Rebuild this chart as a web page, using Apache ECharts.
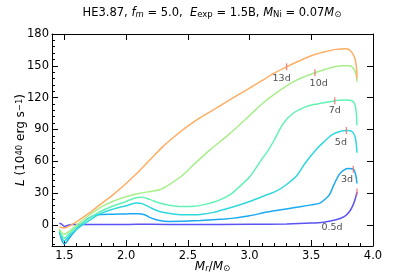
<!DOCTYPE html>
<html><head><meta charset="utf-8">
<script src="https://cdn.jsdelivr.net/npm/echarts@6/dist/echarts.min.js"></script>
<style>html,body{margin:0;padding:0;background:#fff}#c{width:415px;height:277px}</style>
</head><body><div id="c"></div>
<script>
// ---- tick labels ----
const xTicks = [1.5, 2.0, 2.5, 3.0, 3.5, 4.0];
const yTicks = [0, 30, 60, 90, 120, 150, 180];

// ---- series (M_r / M_sun , L in 1e40 erg/s) ----
const m13 = [1.46,1.5,1.55,1.6,1.7,1.8,1.9,2.0,2.1,2.2,2.3,2.4,2.5,2.6,2.7,2.8,2.9,3.0,3.1,3.2,3.3,3.4,3.5,3.6,3.7,3.78,3.82,3.85,3.865,3.87];
const L13 = [-2,-3,-0.5,3,11,20,29,39,50,62,74,84,93,101,108,115,122,129,136,143,149,154.5,159.5,163,165.5,166,164,158,150,138];

const m10 = [1.46,1.5,1.55,1.6,1.7,1.8,1.9,2.0,2.1,2.2,2.27,2.35,2.45,2.55,2.68,2.84,3.0,3.1,3.2,3.3,3.38,3.45,3.53,3.65,3.75,3.81,3.845,3.865,3.87];
const L10 = [-4,-9,-5,0,9,17,22.5,26.5,29.5,31.5,33,38,46,57,70.7,86,103,114,123,131,136.5,140,143.5,148,150,150,147,141,135];

const m7 = [1.46,1.5,1.55,1.6,1.7,1.8,1.9,2.0,2.08,2.13,2.19,2.27,2.35,2.45,2.55,2.65,2.75,2.85,2.9,3.0,3.1,3.15,3.2,3.27,3.35,3.46,3.55,3.65,3.72,3.78,3.83,3.855,3.865,3.87];
const L7 = [-5,-12.5,-7,-2,6,13,18,22,25.5,26,24,20.5,18.5,17.3,17.5,19.5,23,29,34,45,62,70,80,95,105,111.5,114,116,117.5,117.8,117,113,105,94];

const m5 = [1.46,1.5,1.55,1.6,1.7,1.8,1.9,2.0,2.08,2.13,2.2,2.27,2.38,2.5,2.6,2.7,2.87,3.0,3.14,3.22,3.3,3.38,3.45,3.54,3.6,3.67,3.73,3.79,3.83,3.855,3.865,3.87];
const L5 = [-6,-15,-9,-4,4,11,15,18,20.5,20,16,12.5,10.3,9.5,9.8,11.5,17,22,28.3,32,38,46,58,71,78,85,88,89,88,83,76,68];

const m3 = [1.46,1.5,1.55,1.6,1.65,1.7,1.75,1.8,1.9,2.0,2.1,2.15,2.2,2.27,2.35,2.5,2.6,2.8,2.87,3.0,3.14,3.3,3.41,3.5,3.57,3.62,3.65,3.68,3.73,3.77,3.8,3.84,3.86,3.87];
const L3 = [-7,-18,-11,-4,2,6.5,9,9.8,10,10.3,10.5,9.5,6.5,4,3.2,3.5,4,5.5,6.3,8.5,12,15,17,18.8,20.5,25,29,37,48,52,53,52.5,47,39];

const m05 = [1.46,1.48,1.5,1.53,1.56,1.7,2.0,2.2,2.5,3.0,3.3,3.5,3.6,3.7,3.77,3.81,3.84,3.86,3.87];
const L05 = [1.5,0.5,-1.5,-0.5,0.3,0.2,0.3,0.6,0.2,0.5,0.8,1.6,2.5,4.7,8,12.5,19,26,31];

// ---- epoch markers (red ticks) and their labels ----
const epochNames = ['13d','10d','7d','5d','3d','0.5d'];
const markM = [3.30, 3.53, 3.69, 3.784, 3.84, 3.87];
const markL = [149, 143.5, 117, 89, 52.5, 31];
const labelM = [3.26, 3.56, 3.69, 3.74, 3.79, 3.668];
const labelL = [138, 133, 107.7, 78, 43, -2.2];

const colors = ['#ffad62','#a8ee8a','#62f2b4','#2fd8dc','#1aaaf0','#5a55f2'];

const FONT = 'DejaVu Sans';
const xMinor = []; for (let i = 14; i <= 40; i++) xMinor.push(i / 10);
const yMinor = []; for (let v = -18; v <= 180; v += 6) yMinor.push(v);

const zip = (a, b) => a.map((v, i) => [v, b[i]]);
const curves = [[m13,L13],[m10,L10],[m7,L7],[m5,L5],[m3,L3],[m05,L05]];

const sub = {fontSize: 8.5, fontFamily: FONT, verticalAlign: 'bottom', lineHeight: 10, color:'#000'};
const subI = Object.assign({}, sub, {fontStyle: 'italic'});
const sup = {fontSize: 8.5, fontFamily: FONT, verticalAlign: 'top', lineHeight: 9, color:'#000'};
const it = {fontStyle: 'italic', fontFamily: FONT, fontSize: 12, color:'#000'};
const itT = Object.assign({}, it, {fontSize: 11.5});

const chart = echarts.init(document.getElementById('c'), null, {renderer: 'canvas'});

const series = curves.map((c, i) => ({
  type: 'line', xAxisIndex: 0, yAxisIndex: 0,
  data: zip(c[0], c[1]), showSymbol: false, smooth: 0.3,
  lineStyle: {color: colors[i], width: 1.5}, z: 2 + (5 - i), silent: true
}));
series.push({
  type: 'scatter', xAxisIndex: 0, yAxisIndex: 0,
  data: zip(markM, markL), symbol: 'rect', symbolSize: [1.3, 7],
  itemStyle: {color: '#f26d6d', opacity: 0.85}, z: 10, silent: true
});
series.push({
  type: 'scatter', xAxisIndex: 0, yAxisIndex: 0,
  data: labelM.map((v, i) => [v, labelL[i], epochNames[i]]), symbolSize: 0,
  label: {show: true, position: 'inside', formatter: p => p.data[2], color: '#222', fontSize: 9.5, fontFamily: FONT},
  z: 11, silent: true
});

const axLine = {show: true, onZero: false, lineStyle: {color: '#000', width: 1}};

chart.setOption({
  animation: false,
  backgroundColor: '#fff',
  grid: {left: 52, right: 42, top: 34, bottom: 31, containLabel: false, outerBoundsMode: 'none'},
  graphic: [{
    type: 'text', x: 212, y: 7,
    style: {
      text: 'HE3.87, {i|f}{si|m} = 5.0,  {i|E}{s|exp} = 1.5B, {i|M}{s|Ni} = 0.07{i|M}{s|⊙}',
      font: '11.5px ' + FONT, fill: '#000', align: 'center',
      rich: {i: itT, s: sub, si: subI}
    }
  }],
  xAxis: [
    {type: 'value', min: 1.4, max: 4.0, position: 'bottom',
     axisLine: axLine,
     axisTick: {show: true, inside: true, length: 6, customValues: xTicks, lineStyle: {color: '#000'}},
     axisLabel: {customValues: xTicks, formatter: v => v.toFixed(1), color: '#000', fontSize: 11.5, margin: 4, fontFamily: FONT},
     splitLine: {show: false},
     name: '{i|M}{si|r}/{i|M}{s|⊙}', nameLocation: 'middle', nameGap: 15, nameMoveOverlap: false,
     nameTextStyle: {fontSize: 12, fontFamily: FONT, color: '#000', verticalAlign: 'top', rich: {i: it, s: sub, si: subI}}},
    {type: 'value', min: 1.4, max: 4.0, position: 'bottom',
     axisLine: {show: false, onZero: false},
     axisTick: {show: true, inside: true, length: 3, customValues: xMinor, lineStyle: {color: '#000'}},
     axisLabel: {show: false}, splitLine: {show: false}},
    {type: 'value', min: 1.4, max: 4.0, position: 'top',
     axisLine: axLine,
     axisTick: {show: true, inside: true, length: 6, customValues: xTicks, lineStyle: {color: '#000'}},
     axisLabel: {show: false}, splitLine: {show: false}}
  ],
  yAxis: [
    {type: 'value', min: -20, max: 180, position: 'left',
     axisLine: axLine,
     axisTick: {show: true, inside: true, length: 6, customValues: yTicks, lineStyle: {color: '#000'}},
     axisLabel: {customValues: yTicks, color: '#000', fontSize: 11.5, margin: 3, fontFamily: FONT},
     splitLine: {show: false},
     name: '{i|L} (10{p|40} erg s{p|−1})', nameLocation: 'middle', nameGap: 25, nameRotate: 90, nameMoveOverlap: false,
     nameTextStyle: {fontSize: 12, fontFamily: FONT, color: '#000', rich: {i: it, p: sup}}},
    {type: 'value', min: -20, max: 180, position: 'left',
     axisLine: {show: false, onZero: false},
     axisTick: {show: true, inside: true, length: 3, customValues: yMinor, lineStyle: {color: '#000'}},
     axisLabel: {show: false}, splitLine: {show: false}},
    {type: 'value', min: -20, max: 180, position: 'right',
     axisLine: axLine,
     axisTick: {show: true, inside: true, length: 6, customValues: yTicks, lineStyle: {color: '#000'}},
     axisLabel: {show: false}, splitLine: {show: false}}
  ],
  series: series
});
</script></body></html>
